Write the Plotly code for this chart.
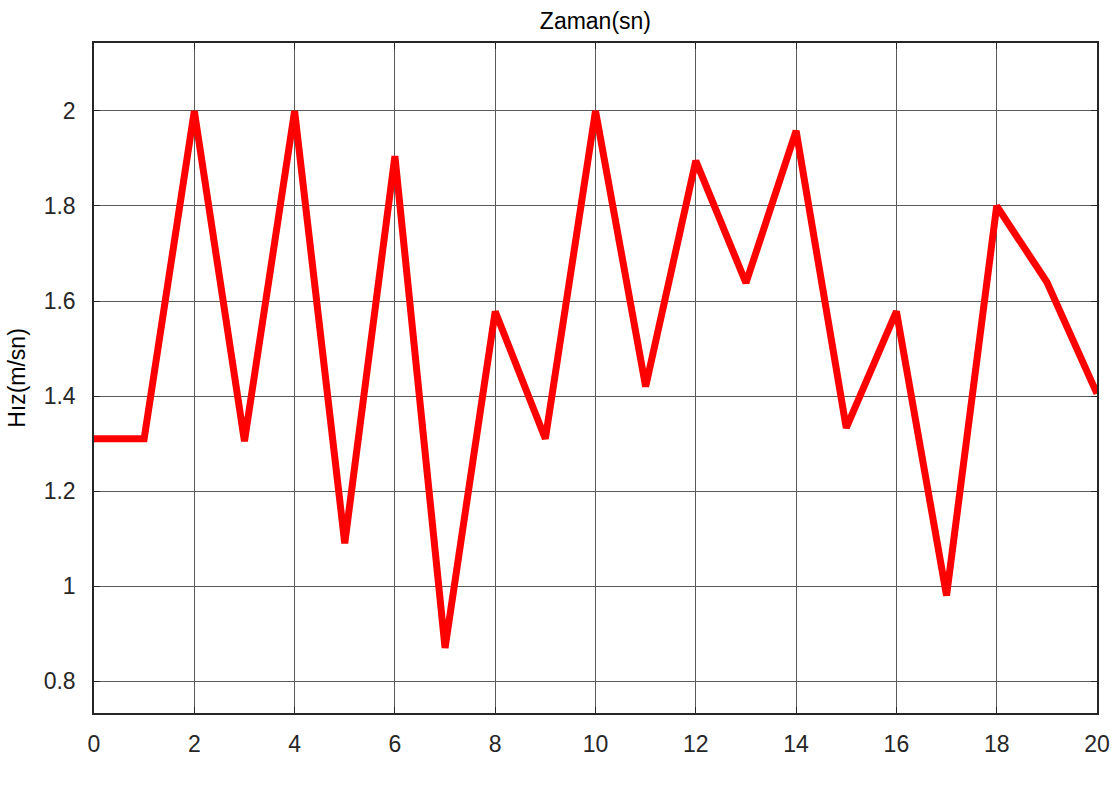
import plotly.graph_objects as go

zaman = [0, 1, 2, 3, 4, 5, 6, 7, 8, 9, 10, 11, 12, 13, 14, 15, 16, 17, 18, 19, 20]
hiz = [1.31, 1.31, 2.0, 1.305, 2.0, 1.09, 1.905, 0.87, 1.578, 1.31, 2.0, 1.42,
       1.895, 1.638, 1.958, 1.333, 1.578, 0.98, 1.80, 1.64, 1.405]

x_ticks = [0, 2, 4, 6, 8, 10, 12, 14, 16, 18, 20]
y_ticks = [0.8, 1.0, 1.2, 1.4, 1.6, 1.8, 2.0]
y_tick_labels = ["0.8", "1", "1.2", "1.4", "1.6", "1.8", "2"]

fig = go.Figure()
fig.add_trace(go.Scatter(x=zaman, y=hiz, mode="lines",
                         line=dict(color="#ff0000", width=7),
                         showlegend=False, hoverinfo="x+y"))

font_color = "#262626"
fig.update_layout(
    width=1114, height=807,
    margin=dict(l=94, r=17, t=43, b=94, autoexpand=False),
    paper_bgcolor="white", plot_bgcolor="white",
    font=dict(family="Liberation Sans, Arial, sans-serif", size=23, color=font_color),
    title=dict(text="Zaman(sn)", x=0.5345, xanchor="center",
               y=1 - 21 / 807, yanchor="middle", yref="container",
               font=dict(size=23, color="#000000")),
)
fig.update_xaxes(
    range=[0, 20], tickvals=x_ticks, ticktext=[str(v) for v in x_ticks],
    showgrid=True, gridcolor="#5a5a5a", gridwidth=1,
    showline=True, linecolor="#262626", linewidth=1.5, mirror="allticks",
    ticks="inside", ticklen=6, tickcolor="#262626",
    zeroline=False, ticklabelstandoff=10, automargin=False,
    ticklabeloverflow="allow",
)
fig.update_yaxes(
    range=[0.733, 2.143], tickvals=y_ticks, ticktext=y_tick_labels,
    showgrid=True, gridcolor="#5a5a5a", gridwidth=1,
    showline=True, linecolor="#262626", linewidth=1.5, mirror="allticks",
    ticks="inside", ticklen=6, tickcolor="#262626",
    zeroline=False, ticklabelstandoff=12, automargin=False,
    title=dict(text="Hız(m/sn)", standoff=12, font=dict(size=23, color="#000000")),
)

fig.write_html("out.html")
